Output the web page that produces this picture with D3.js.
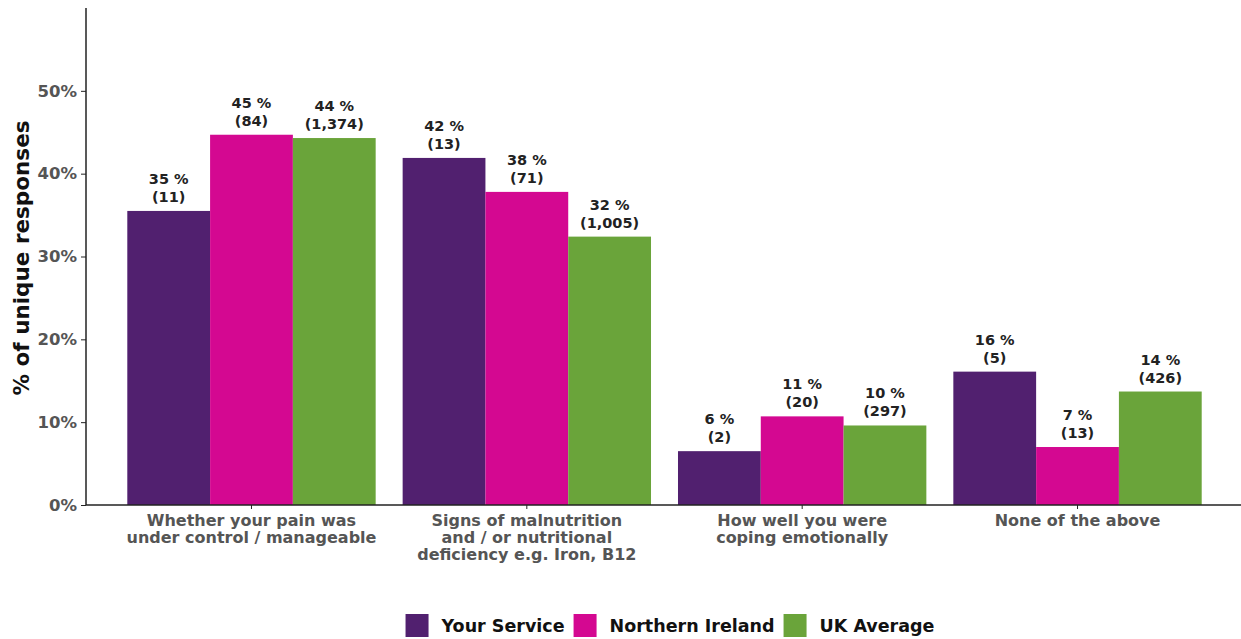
<!DOCTYPE html>
<html>
<head>
<meta charset="utf-8">
<script src="https://cdn.jsdelivr.net/npm/d3@7"></script>
<style>
  body { margin: 0; background: #fff; }
  text { font-family: "DejaVu Sans", sans-serif; font-weight: bold; }
</style>
</head>
<body>
<div id="chart"></div>
<script>
var categories = [
  ["Whether your pain was", "under control / manageable"],
  ["Signs of malnutrition", "and / or nutritional", "deficiency e.g. Iron, B12"],
  ["How well you were", "coping emotionally"],
  ["None of the above"]
];
var series = ["Your Service", "Northern Ireland", "UK Average"];
var colours = ["#51206f", "#d40891", "#6aa43a"];
var pctYour = [0.355, 0.419, 0.065, 0.161];
var pctNI = [0.447, 0.378, 0.107, 0.070];
var pctUK = [0.443, 0.324, 0.096, 0.137];
var labYour = ["35 %", "42 %", "6 %", "16 %"];
var labNI = ["45 %", "38 %", "11 %", "7 %"];
var labUK = ["44 %", "32 %", "10 %", "14 %"];
var cntYour = ["(11)", "(13)", "(2)", "(5)"];
var cntNI = ["(84)", "(71)", "(20)", "(13)"];
var cntUK = ["(1,374)", "(1,005)", "(297)", "(426)"];
var yTicks = [0, 0.1, 0.2, 0.3, 0.4, 0.5];

var values = [pctYour, pctNI, pctUK];
var pctLabels = [labYour, labNI, labUK];
var cntLabels = [cntYour, cntNI, cntUK];

var w = 1241, h = 639;
var svg = d3.select("#chart").append("svg")
    .attr("width", w)
    .attr("height", h);

var idx = d3.range(categories.length);
var x = d3.scaleBand()
    .domain(idx)
    .range([86, 1243])
    .paddingInner(0.098)
    .paddingOuter(0.15);
var xs = d3.scaleBand()
    .domain(d3.range(series.length))
    .range([0, x.bandwidth()]);
var y = d3.scaleLinear()
    .domain([0, 0.6])
    .range([505, 8]);

// bars
series.forEach(function(s, si) {
    var g = svg.append("g");
    g.selectAll("rect")
        .data(idx)
        .enter().append("rect")
        .attr("x", function(d) { return x(d) + xs(si); })
        .attr("y", function(d) { return y(values[si][d]); })
        .attr("width", xs.bandwidth())
        .attr("height", function(d) { return y(0) - y(values[si][d]); })
        .style("fill", colours[si]);

    g.selectAll("text.pct")
        .data(idx)
        .enter().append("text")
        .attr("class", "pct")
        .attr("x", function(d) { return x(d) + xs(si) + xs.bandwidth() / 2; })
        .attr("y", function(d) { return y(values[si][d]) - 27; })
        .attr("text-anchor", "middle")
        .style("font-size", "14.5px")
        .style("fill", "#222")
        .text(function(d) { return pctLabels[si][d]; });

    g.selectAll("text.cnt")
        .data(idx)
        .enter().append("text")
        .attr("class", "cnt")
        .attr("x", function(d) { return x(d) + xs(si) + xs.bandwidth() / 2; })
        .attr("y", function(d) { return y(values[si][d]) - 9; })
        .attr("text-anchor", "middle")
        .style("font-size", "14.5px")
        .style("fill", "#222")
        .text(function(d) { return cntLabels[si][d]; });
});

// y axis
var yAxis = svg.append("g")
    .attr("transform", "translate(86,0)")
    .call(d3.axisLeft(y).tickValues(yTicks).tickFormat(d3.format(".0%")).tickSize(5).tickPadding(4));
yAxis.select(".domain").attr("d", "M0," + y(0.6) + "V" + y(0)).attr("stroke", "#222").attr("stroke-width", 1.5);
yAxis.selectAll(".tick line").attr("stroke", "#222");
yAxis.selectAll(".tick text")
    .style("font-size", "16.5px")
    .style("fill", "#555")
    .style("font-family", "DejaVu Sans, sans-serif");

// x axis
var xAxis = svg.append("g")
    .attr("transform", "translate(0,505)")
    .call(d3.axisBottom(x).tickSize(4).tickFormat(""));
xAxis.select(".domain").attr("d", "M86,0H1241").attr("stroke", "#222").attr("stroke-width", 1.5);
xAxis.selectAll(".tick line").attr("stroke", "#222");

idx.forEach(function(d) {
    var t = svg.append("text")
        .attr("text-anchor", "middle")
        .style("font-size", "16px")
        .style("fill", "#555");
    categories[d].forEach(function(line, li) {
        t.append("tspan")
            .attr("x", x(d) + x.bandwidth() / 2)
            .attr("y", 526 + li * 17)
            .text(line);
    });
});

// y title
svg.append("text")
    .attr("transform", "translate(29,258) rotate(-90)")
    .attr("text-anchor", "middle")
    .style("font-size", "21.5px")
    .style("fill", "#111")
    .text("% of unique responses");

// legend
var legend = svg.append("g");
var lx = 0;
series.forEach(function(s, si) {
    var it = legend.append("g").attr("transform", "translate(" + lx + ",0)");
    it.append("rect")
        .attr("x", 0).attr("y", 614)
        .attr("width", 23).attr("height", 23)
        .style("fill", colours[si]);
    var tx = it.append("text")
        .attr("x", 36).attr("y", 632)
        .style("font-size", "17.5px")
        .style("fill", "#111")
        .text(s);
    lx += 36 + tx.node().getComputedTextLength() + 9;
});
legend.attr("transform", "translate(" + (670 - (lx - 9) / 2) + ",0)");
</script>
</body>
</html>
